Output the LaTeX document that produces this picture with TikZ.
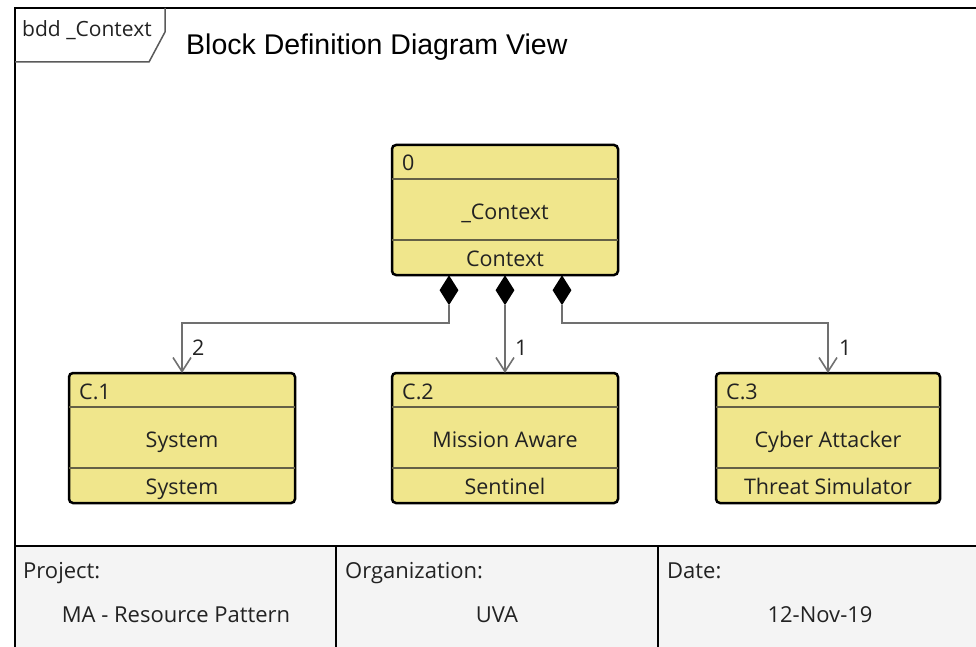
\documentclass[tikz,border=0pt]{standalone}
\usepackage{fontspec}
\setmainfont{Open Sans}
\newfontfamily\titlefont{Liberation Sans}
\usetikzlibrary{arrows.meta,shapes.geometric}

\definecolor{blockfill}{RGB}{240,230,140}
\definecolor{compline}{RGB}{100,96,70}
\definecolor{connline}{RGB}{112,112,112}
\definecolor{panelfill}{RGB}{244,244,244}
\definecolor{inktext}{RGB}{34,34,34}
\definecolor{tabline}{RGB}{90,90,90}

% A SysML block with three compartments: id, name, type
% #1 node name, #2 left x, #3 top y, #4 width, #5 id, #6 name, #7 type
\newcommand\bddblock[7]{%
  \node[blockbox, minimum width=#4] (#1) at (#2,#3) {};
  \draw[comp] ([yshift=-34pt]#1.north west) -- ([yshift=-34pt]#1.north east);
  \draw[comp] ([yshift=-95pt]#1.north west) -- ([yshift=-95pt]#1.north east);
  \node[lbl, anchor=base west] (#1-id) at ([xshift=10pt,yshift=-26pt]#1.north west) {#5};
  \node[lbl, anchor=base] (#1-name) at ([yshift=-74pt]#1.north) {#6};
  \node[lbl, anchor=base] (#1-type) at ([yshift=-121pt]#1.north) {#7};
}

\begin{document}
\begin{tikzpicture}[x=1pt,y=-1pt,
  blockbox/.style={draw=black, line width=2.5pt, fill=blockfill, rounded corners=4pt,
    anchor=north west, minimum height=130pt, inner sep=0pt, outer sep=0pt},
  comp/.style={draw=compline, line width=1.8pt},
  lbl/.style={font=\fontsize{21.5}{25}\selectfont, text=inktext, inner sep=0pt},
  fieldtext/.style={font=\fontsize{22}{26}\selectfont, text=inktext, inner sep=0pt},
  owner/.style={diamond, fill=black, draw=none, minimum width=19pt, minimum height=30pt,
    inner sep=0pt, anchor=north},
  conn/.style={draw=connline, line width=2pt,
    -{Straight Barb[length=14pt,width=18pt,line width=1.6pt]}},
  frameline/.style={draw=black, line width=2.5pt}
]
\useasboundingbox (0,0) rectangle (976,647);
\fill[white] (0,0) rectangle (976,647);

% title block panel
\fill[panelfill] (15,546) rectangle (976,647);
\draw[frameline] (15,546) -- (976,546);
\draw[frameline] (336,546) -- (336,647);
\draw[frameline] (658,546) -- (658,647);

% diagram frame and name tab
\draw[frameline] (15,647) -- (15,8) -- (976,8);
\draw[draw=tabline, line width=1.5pt] (165,8) -- (165,32) -- (149,62) -- (15,62);
\node[font=\fontsize{21}{24}\selectfont, text=inktext, anchor=base west, inner sep=0pt] (tabname) at (22,37) {bdd \_Context};
\node[font=\titlefont\fontsize{28.5}{32}\selectfont, anchor=base west, inner sep=0pt] (title) at (186,55) {Block Definition Diagram View};

% blocks
\bddblock{ctx}{392}{145}{226pt}{0}{\_Context}{Context}
\bddblock{sys}{69}{373}{226pt}{C.1}{System}{System}
\bddblock{msn}{392}{373}{226pt}{C.2}{Mission Aware}{Sentinel}
\bddblock{atk}{716}{373}{224pt}{C.3}{Cyber Attacker}{Threat Simulator}

% composition ends
\node[owner] (own1) at ([xshift=-56pt]ctx.south) {};
\node[owner] (own2) at (ctx.south) {};
\node[owner] (own3) at ([xshift=57pt]ctx.south) {};

% part associations
\draw[conn] (own1.south) -- ++(0,18) -| (sys.north);
\draw[conn] (own2.south) -- (msn.north);
\draw[conn] (own3.south) -- ++(0,18) -| (atk.north);

% multiplicities
\node[lbl, anchor=base west] (mult1) at ([xshift=10pt,yshift=18pt]sys.north) {2};
\node[lbl, anchor=base west] (mult2) at ([xshift=10pt,yshift=18pt]msn.north) {1};
\node[lbl, anchor=base west] (mult3) at ([xshift=11pt,yshift=18pt]atk.north) {1};

% title block fields
\node[fieldtext, anchor=base west] (projlbl) at (23,578) {Project:};
\node[fieldtext, anchor=base] (projval) at (176,622) {MA - Resource Pattern};
\node[fieldtext, anchor=base west] (orglbl) at (345,578) {Organization:};
\node[fieldtext, anchor=base] (orgval) at (497,622) {UVA};
\node[fieldtext, anchor=base west] (datelbl) at (667,578) {Date:};
\node[fieldtext, anchor=base] (dateval) at (820,622) {12-Nov-19};
\end{tikzpicture}
\end{document}
